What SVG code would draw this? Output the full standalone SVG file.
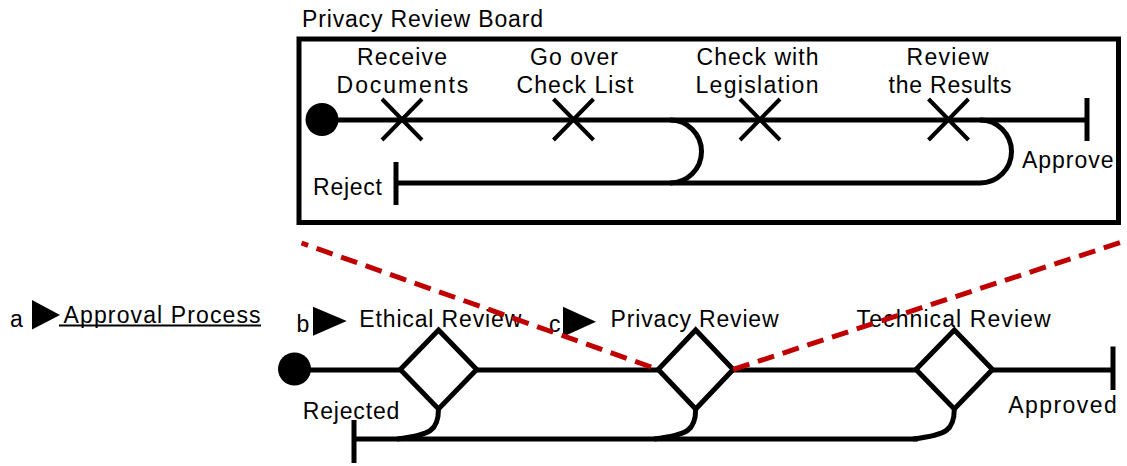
<svg xmlns="http://www.w3.org/2000/svg" width="1127" height="466" viewBox="0 0 1127 466">
<style>
text{font-family:"Liberation Sans",Arial,sans-serif;font-size:23px;fill:#000}
.ln{fill:none;stroke:#000;stroke-width:5}
.x{stroke:#000;stroke-width:4;fill:none}
.dia{fill:#fff;stroke:#000;stroke-width:5;stroke-linejoin:miter}
.red{fill:none;stroke:#c00000;stroke-width:5;stroke-dasharray:17 9}
.tri{fill:#000}
</style>
<rect width="1127" height="466" fill="#fff"/>

<g id="board">
<text x="302" y="27" textLength="241" lengthAdjust="spacing">Privacy Review Board</text>
<rect x="299" y="39" width="819.5" height="183.5" fill="none" stroke="#000" stroke-width="5"/>
</g>

<g id="connectors">
<path class="ln" d="M322,120 H1087"/>
<path class="ln" d="M397,183 H980"/>
<path class="ln" d="M670,120 A31.5 31.5 0 0 1 670,183"/>
<path class="ln" d="M980,120 A31.5 31.5 0 0 1 980,183"/>
<path class="ln" d="M294.5,370 H1113"/>
<path class="ln" d="M354,439 H918"/>
<path class="ln" d="M438.5,409 C438.5,430 431,435 397,439"/>
<path class="ln" d="M695.7,409 C695.7,430 688,435 654,439"/>
<path class="ln" d="M954.3,409 C954.3,430 947,435 913,439"/>
</g>

<g id="board-start"><circle cx="322" cy="119.5" r="16.5" fill="#000"/></g>
<g id="task-receive">
<path class="x" d="M382,99 L422,140 M382,140 L422,99"/>
<text x="357" y="65" textLength="90" lengthAdjust="spacing">Receive</text>
<text x="336.6" y="93" textLength="131.7" lengthAdjust="spacing">Documents</text>
</g>
<g id="task-checklist">
<path class="x" d="M553.5,99 L593.5,140 M553.5,140 L593.5,99"/>
<text x="530" y="65" textLength="88" lengthAdjust="spacing">Go over</text>
<text x="516.5" y="93" textLength="117" lengthAdjust="spacing">Check List</text>
</g>
<g id="task-legislation">
<path class="x" d="M740,99 L780,140 M740,140 L780,99"/>
<text x="696.5" y="65" textLength="122" lengthAdjust="spacing">Check with</text>
<text x="695.5" y="93" textLength="123" lengthAdjust="spacing">Legislation</text>
</g>
<g id="task-results">
<path class="x" d="M928.5,99 L968.5,140 M928.5,140 L968.5,99"/>
<text x="906.5" y="65" textLength="82" lengthAdjust="spacing">Review</text>
<text x="888.5" y="93" textLength="123" lengthAdjust="spacing">the Results</text>
</g>
<g id="board-approve">
<path class="ln" d="M1087,98 V141"/>
<text x="1022" y="168" textLength="91.5" lengthAdjust="spacing">Approve</text>
</g>
<g id="board-reject">
<path class="ln" d="M396,162 V205"/>
<text x="313" y="195" textLength="69" lengthAdjust="spacing">Reject</text>
</g>

<g id="process-label">
<text x="10" y="326.7">a</text>
<polygon class="tri" points="32,300 32,329.5 60,315"/>
<text x="63.6" y="322.5" textLength="197" lengthAdjust="spacing">Approval Process</text>
<path d="M59,325.5 H261" stroke="#000" stroke-width="2"/>
</g>
<g id="start"><circle cx="294.5" cy="369" r="16.5" fill="#000"/></g>
<g id="ethical-review">
<text x="296.5" y="332">b</text>
<polygon class="tri" points="313,306.7 313,335.7 346.7,321"/>
<text x="359.3" y="327.3" textLength="162" lengthAdjust="spacing">Ethical Review</text>
<polygon class="dia" points="438.5,330 476.7,369.5 438.5,409 400.3,369.5"/>
</g>
<g id="privacy-review">
<text x="549" y="332">c</text>
<polygon class="tri" points="563,306.7 563,336.7 596,321.7"/>
<text x="610.6" y="327.3" textLength="168" lengthAdjust="spacing">Privacy Review</text>
<polygon class="dia" points="695.7,330 733.2,369.5 695.7,409 658.2,369.5"/>
</g>
<g id="technical-review">
<text x="856.6" y="326.7" textLength="194" lengthAdjust="spacing">Technical Review</text>
<polygon class="dia" points="954.3,330 992.5,369.5 954.3,409 916,369.5"/>
</g>
<g id="approved">
<path class="ln" d="M1113,346.5 V390"/>
<text x="1008.3" y="413.3" textLength="108.4" lengthAdjust="spacing">Approved</text>
</g>
<g id="rejected">
<path class="ln" d="M354,420 V463"/>
<text x="302.7" y="419" textLength="96.6" lengthAdjust="spacing">Rejected</text>
</g>

<g id="zoom-lines">
<path class="red" d="M301.5,243 L658.2,369.5" stroke-dashoffset="10"/>
<path class="red" d="M733.2,369.5 L1122,242"/>
</g>
</svg>
